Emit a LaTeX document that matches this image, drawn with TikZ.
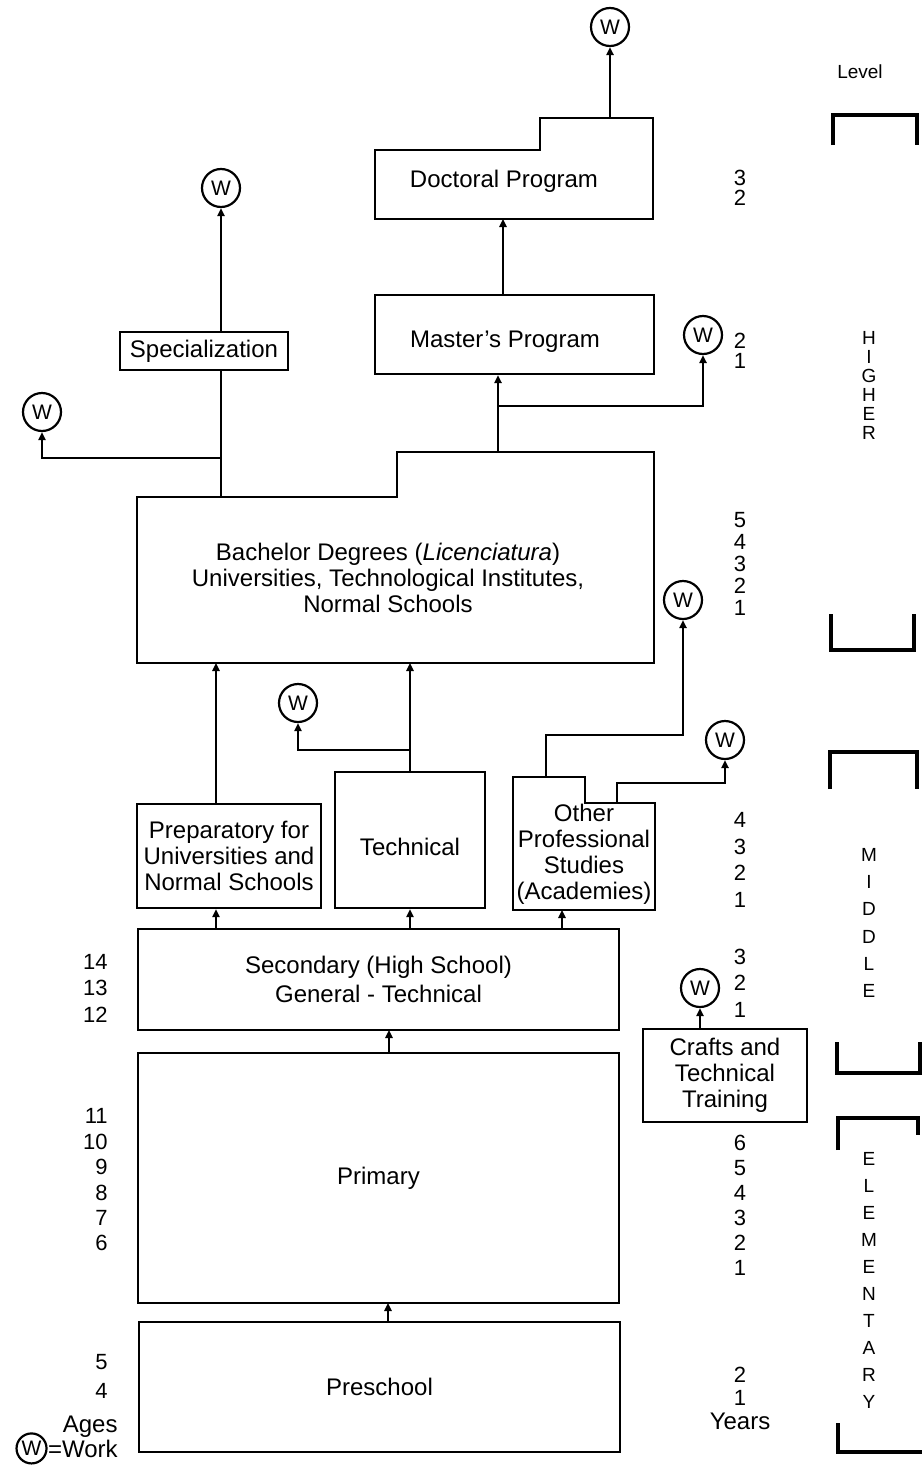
\documentclass[tikz,border=0pt]{standalone}
\usepackage{fontspec}
\setmainfont{Liberation Sans}
\usetikzlibrary{arrows.meta,fit,positioning}

\tikzset{
  box/.style={draw,line width=1.1pt,inner sep=0pt},
  txt/.style={font=\fontsize{12}{13}\selectfont,align=center,inner sep=0pt},
  wcirc/.style={draw,circle,line width=1.1pt,minimum size=19pt,inner sep=0pt,font=\fontsize{10.5}{11}\selectfont},
  ln/.style={line width=1.1pt},
  arr/.style={line width=1.1pt,-{Triangle[length=4pt,width=3.6pt]}},
  brk/.style={line width=1.8pt},
  num/.style={font=\fontsize{11}{#1}\selectfont,align=center,inner sep=0pt},
  lvl/.style={font=\fontsize{9.5}{#1}\selectfont,align=center,inner sep=0pt},
}

\begin{document}
\begin{tikzpicture}[x=0.5pt,y=-0.5pt]
\useasboundingbox (0,0) rectangle (922,1467);
% doctoral and master's
\draw[ln] (375,150) -- (540,150) -- (540,118) -- (653,118) -- (653,219) -- (375,219) -- cycle;
\node[txt] (doc) at (504,181) {Doctoral Program};
\coordinate (docout) at (610,118);
\coordinate (docin) at (503,219);
\node[wcirc] (wdoc) at (610,27) {W};
\draw[arr] (docout) -- (wdoc);
\node[box,fit={(375,295) (654,374)}] (mas) {};
\node[txt] (mastxt) at (505,342) {Master's Program};
\draw[arr] (mas.north -| docin) -- (docin);
\node[wcirc] (wmas) at (703,335) {W};
% bachelor
\draw[ln] (137,497) -- (397,497) -- (397,452) -- (654,452) -- (654,663) -- (137,663) -- cycle;
\node[txt] (bach) at (388,578) {Bachelor Degrees (\textit{Licenciatura})\\Universities, Technological Institutes,\\Normal Schools};
\coordinate (bachout) at (498,452);
\coordinate (masbr) at (498,406);
\draw[arr] (bachout) -- (bachout |- mas.south);
\draw[arr] (masbr) -| (wmas);
% specialization
\node[box,fit={(120,332) (288,370)}] (spec) {};
\node[txt] (spectxt) at (spec) {Specialization};
\coordinate (specout) at (221,497);
\coordinate (specbr) at (221,458);
\node[wcirc] (wspec) at (221,188) {W};
\node[wcirc] (wleft) at (42,412) {W};
\draw[ln] (specout) -- (specout |- spec.south);
\draw[arr] (spec.north -| wspec) -- (wspec);
\draw[arr] (specbr) -| (wleft);
% middle level
\node[box,fit={(137,804) (321,908)}] (prep) {};
\node[txt] (preptxt) at (prep) {Preparatory for\\Universities and\\Normal Schools};
\node[box,fit={(335,772) (485,908)}] (tech) {};
\node[txt] (techtxt) at ([yshift=-3.5pt]tech.center) {Technical};
\coordinate (bachin1) at (216,663);
\coordinate (bachin2) at (410,663);
\draw[arr] (bachin1 |- prep.north) -- (bachin1);
\draw[arr] (tech.north -| bachin2) -- (bachin2);
\node[wcirc] (wtech) at (298,703) {W};
\coordinate (techbr) at (410,750);
\draw[arr] (techbr) -| (wtech);
\draw[ln] (513,777) -- (585,777) -- (585,803) -- (655,803) -- (655,910) -- (513,910) -- cycle;
\node[txt] (oth) at (584,854) {Other\\Professional\\Studies\\(Academies)};
\node[wcirc] (woth1) at (683,600) {W};
\node[wcirc] (woth2) at (725,740) {W};
\coordinate (othout1) at (546,777);
\coordinate (othout2) at (617,803);
\draw[arr] (othout1) -- ++(0,-42) -| (woth1);
\draw[arr] (othout2) -- ++(0,-20) -| (woth2);
% secondary
\node[box,fit={(138,929) (619,1030)}] (sec) {};
\node[txt] (sectxt) at (sec) {Secondary (High School)\\[1.5pt]General - Technical};
\coordinate (othin) at (562,910);
\draw[arr] (sec.north -| bachin1) -- (bachin1 |- prep.south);
\draw[arr] (sec.north -| bachin2) -- (bachin2 |- tech.south);
\draw[arr] (othin |- sec.north) -- (othin);
\node[box,fit={(643,1029) (807,1122)}] (craft) {};
\node[txt] (crafttxt) at (craft) {Crafts and\\Technical\\Training};
\node[wcirc] (wcraft) at (700,988) {W};
\draw[arr] (craft.north -| wcraft) -- (wcraft);
% primary and preschool
\node[box,fit={(138,1053) (619,1303)}] (prim) {};
\node[txt] (primtxt) at (prim) {Primary};
\node[box,fit={(139,1322) (620,1452)}] (pre) {};
\node[txt] (pretxt) at (pre) {Preschool};
\coordinate (secin) at (389,1030);
\coordinate (primin) at (388,1303);
\draw[arr] (secin |- prim.north) -- (secin);
\draw[arr] (primin |- pre.north) -- (primin);
% years
\node[num=10pt] (yr1) at (740,188) {3\\2};
\node[num=10pt] (yr2) at (740,351) {2\\1};
\node[num=11pt] (yr3) at (740,564) {5\\4\\3\\2\\1};
\node[num=13.3pt] (yr4) at (740,860) {4\\3\\2\\1};
\node[num=13.25pt] (yr5) at (740,983) {3\\2\\1};
\node[num=12.5pt] (yr6) at (740,1205) {6\\5\\4\\3\\2\\1};
\node[num=11.75pt] (yr7) at (740,1398) {2\\1\\\fontsize{12}{12}\selectfont Years};
% ages
\node[num=13.25pt,align=right,anchor=east] (age1) at (108,988) {14\\13\\12};
\node[num=12.7pt,align=right,anchor=east] (age2) at (108,1180) {11\\10\\9\\8\\7\\6};
\node[num=14.5pt,align=right,anchor=east] (age3) at (108,1376) {5\\4};
\node[txt,anchor=base east] (ages) at (118,1432) {Ages};
\node[txt,anchor=base east] (work) at (118,1457) {=Work};
\node[wcirc,minimum size=15pt,left=0pt of work] (wkey) {W};
% levels
\node[lvl=11pt] (level) at (860,72) {Level};
\draw[brk] (833,145) -- (833,115) -- (917,115) -- (917,145);
\node[lvl=9.5pt] (higher) at (869,385.5) {H\\I\\G\\H\\E\\R};
\draw[brk] (831,614) -- (831,650) -- (914,650) -- (914,614);
\draw[brk] (830,789) -- (830,752) -- (917,752) -- (917,789);
\node[lvl=13.6pt] (middle) at (869,923) {M\\I\\D\\D\\L\\E};
\draw[brk] (837,1042) -- (837,1073) -- (920,1073) -- (920,1042);
\draw[brk] (838,1150) -- (838,1118) -- (918,1118) -- (918,1135);
\node[lvl=13.5pt] (elem) at (869,1280.5) {E\\L\\E\\M\\E\\N\\T\\A\\R\\Y};
\draw[brk] (838,1423) -- (838,1452) -- (922,1452);
\end{tikzpicture}
\end{document}
